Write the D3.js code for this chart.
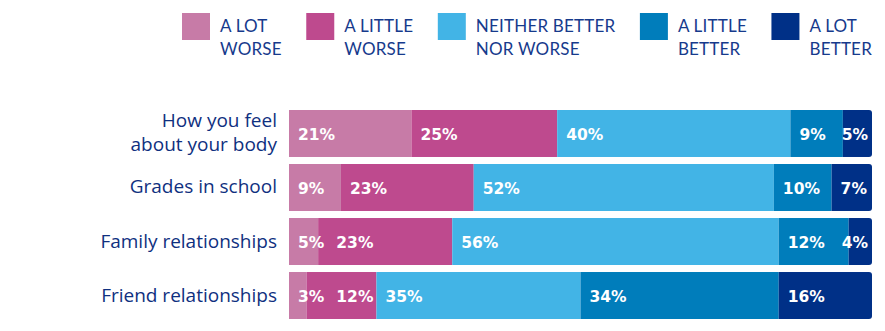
<!DOCTYPE html>
<html lang="en">
<head>
<meta charset="UTF-8">
<title>Stacked bars</title>
<script src="https://cdn.jsdelivr.net/npm/d3@7"></script>
<style>
    body { margin: 0; background: #fff; }
    .legend text { font-family: Lato, sans-serif; font-size: 17px; letter-spacing: 0.2px; fill: #163a8c; }
    .cat text { font-family: "Open Sans", sans-serif; font-size: 19px; font-weight: 500; fill: #0f3080; }
    .val { font-family: "DejaVu Sans", sans-serif; font-size: 15.5px; font-weight: bold; fill: #fff; }
</style>
</head>
<body>
<script>
    // data
    var categories = [
        ["How you feel", "about your body"],
        ["Grades in school"],
        ["Family relationships"],
        ["Friend relationships"]
    ]
    var seriesNames = [
        ["A LOT", "WORSE"],
        ["A LITTLE", "WORSE"],
        ["NEITHER BETTER", "NOR WORSE"],
        ["A LITTLE", "BETTER"],
        ["A LOT", "BETTER"]
    ]
    var aLotWorse    = [21, 9, 5, 3]
    var aLittleWorse = [25, 23, 23, 12]
    var neither      = [40, 52, 56, 35]
    var aLittleBetter = [9, 10, 12, 34]
    var aLotBetter   = [5, 7, 4, 16]
    var colors = ["#c77ba7", "#be4a8e", "#42b4e6", "#007dbb", "#003087"]

    var width = 885, height = 331

    var svg = d3.select("body").append("svg")
        .attr("width", width)
        .attr("height", height)

    var series = [aLotWorse, aLittleWorse, neither, aLittleBetter, aLotBetter]
    var rows = categories.map(function(c, i) {
        return series.map(function(s) { return s[i] })
    })

    var x0 = 289, x1 = 872
    var y = d3.scaleBand()
        .domain(d3.range(categories.length))
        .range([110, 319])
        .paddingInner(0.13)
        .paddingOuter(0)

    // bars, each row scaled to its own total
    var defs = svg.append("defs")
    rows.forEach(function(vals, i) {
        var total = d3.sum(vals)
        var x = d3.scaleLinear().domain([0, total]).range([x0, x1])
        var top = y(i), bh = y.bandwidth(), r = 3

        defs.append("clipPath").attr("id", "clip" + i)
            .append("path")
            .attr("d", "M" + x0 + "," + top + "H" + (x1 - r) +
                "Q" + x1 + "," + top + " " + x1 + "," + (top + r) +
                "V" + (top + bh - r) +
                "Q" + x1 + "," + (top + bh) + " " + (x1 - r) + "," + (top + bh) +
                "H" + x0 + "Z")

        var starts = []
        var acc = 0
        vals.forEach(function(v) { starts.push(acc); acc += v })

        var g = svg.append("g").attr("clip-path", "url(#clip" + i + ")")
        g.selectAll("rect")
            .data(vals)
            .enter()
            .append("rect")
            .attr("x", function(d, j) { return x(starts[j]) })
            .attr("y", top)
            .attr("width", function(d, j) { return x(starts[j] + d) - x(starts[j]) })
            .attr("height", bh)
            .attr("fill", function(d, j) { return colors[j] })

        // value labels: left-aligned in the segment, pushed right if they collide
        var prevEnd = -Infinity
        vals.forEach(function(v, j) {
            var t = svg.append("text")
                .attr("class", "val")
                .attr("y", top + bh / 2 + 6.5)
                .text(v + "%")
            var w = t.node().getComputedTextLength()
            var lx = Math.max(x(starts[j]) + 9, prevEnd + 12)
            lx = Math.min(lx, x1 - w - 4)
            t.attr("x", lx)
            prevEnd = lx + w
        })
    })

    // category labels
    var cat = svg.append("g").attr("class", "cat")
    categories.forEach(function(lines, i) {
        var cy = y(i) + y.bandwidth() / 2
        var t = cat.append("text")
            .attr("text-anchor", "end")
            .attr("x", 277)
        lines.forEach(function(l, k) {
            var off = lines.length === 1 ? 6 : (k === 0 ? -6 : 18)
            t.append("tspan").attr("x", 277).attr("y", cy + off).text(l)
        })
    })

    // legend: items spread between the first swatch and the bar end
    var legend = svg.append("g").attr("class", "legend")
    var items = seriesNames.map(function(name, j) {
        var g = legend.append("g")
        g.append("rect")
            .attr("width", 28).attr("height", 27)
            .attr("y", 13)
            .attr("fill", colors[j])
        var t = g.append("text")
        var w = 0
        name.forEach(function(l, k) {
            var s = t.append("tspan").attr("x", 38).attr("y", 32 + k * 23).text(l)
            w = Math.max(w, s.node().getComputedTextLength())
        })
        return { g: g, w: 38 + w }
    })
    var legStart = 182
    var gap = (x1 - legStart - d3.sum(items, function(d) { return d.w })) / (items.length - 1)
    var lx = legStart
    items.forEach(function(it) {
        it.g.attr("transform", "translate(" + lx + ",0)")
        lx += it.w + gap
    })
</script>
</body>
</html>
